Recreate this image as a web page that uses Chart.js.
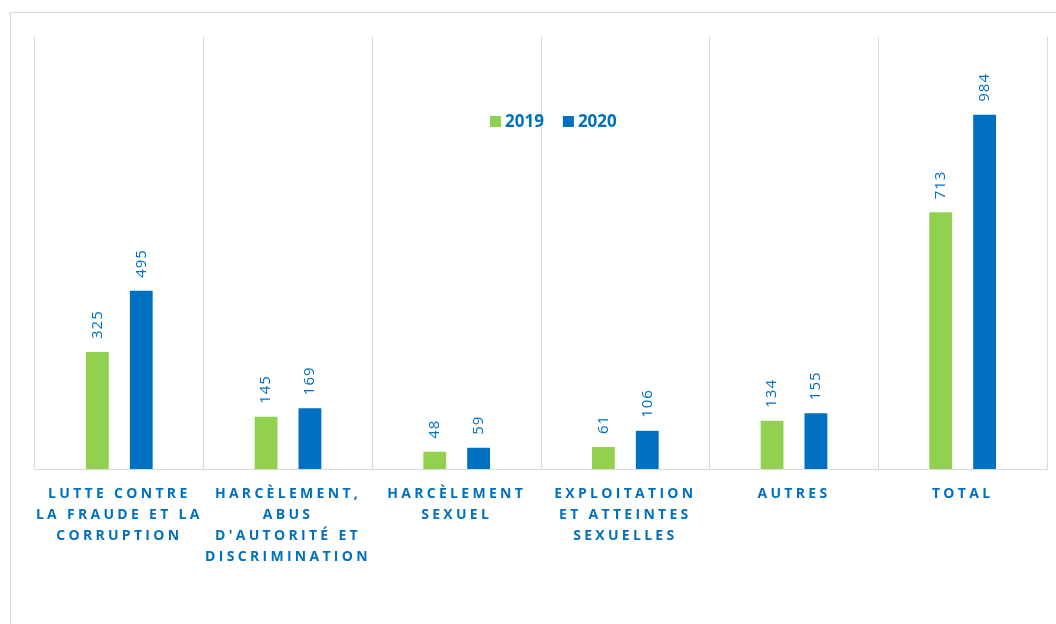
<!DOCTYPE html>
<html>
<head>
<meta charset="utf-8">
<script src="https://cdn.jsdelivr.net/npm/chart.js@4"></script>
<style>
  html, body { margin: 0; padding: 0; background: #fff; }
  #wrap { position: relative; width: 1056px; height: 624px; overflow: hidden; }
  #frame { position: absolute; left: 10px; top: 12px; width: 1100px; height: 700px; border: 1px solid #d9d9d9; }
  #chart { position: absolute; left: 0; top: 0; }
</style>
</head>
<body>
<div id="wrap">
  <div id="frame"></div>
  <canvas id="chart" width="1056" height="624"></canvas>
</div>
<script>
// 値は図から読み取ったもの
const CATEGORIES = [
  ['LUTTE CONTRE', 'LA FRAUDE ET LA', 'CORRUPTION'],
  ['HARCÈLEMENT,', 'ABUS', "D'AUTORITÉ ET", 'DISCRIMINATION'],
  ['HARCÈLEMENT', 'SEXUEL'],
  ['EXPLOITATION', 'ET ATTEINTES', 'SEXUELLES'],
  ['AUTRES'],
  ['TOTAL'],
];
const SERIES_LABELS = ['2019', '2020'];
const VALUES_2019 = [325, 145, 48, 61, 134, 713];
const VALUES_2020 = [495, 169, 59, 106, 155, 984];

const GREEN = '#92d050';
const BLUE = '#0070c0';
const GRID = '#d9d9d9';
const FONT = "'Open Sans', sans-serif";

// x 軸ラベルは字間を広げて描く。データセット描画前に戻す。
const spacingPlugin = {
  id: 'spacing',
  beforeDraw(chart) { chart.ctx.letterSpacing = '3.3px'; },
  beforeDatasetsDraw(chart) { chart.ctx.letterSpacing = '0px'; },
};

// 棒の上に縦書きの数値
const valueLabels = {
  id: 'valueLabels',
  afterDatasetsDraw(chart) {
    const ctx = chart.ctx;
    chart.data.datasets.forEach((ds, di) => {
      const meta = chart.getDatasetMeta(di);
      meta.data.forEach((bar, i) => {
        ctx.save();
        ctx.letterSpacing = '1px';
        ctx.translate(bar.x, bar.y - 13);
        ctx.rotate(-Math.PI / 2);
        ctx.font = `15px ${FONT}`;
        ctx.fillStyle = BLUE;
        ctx.textAlign = 'left';
        ctx.textBaseline = 'middle';
        ctx.fillText(String(ds.data[i]), 0, 0);
        ctx.restore();
      });
    });
  },
};

// 凡例はプロット内の上寄り中央
const insideLegend = {
  id: 'insideLegend',
  afterDatasetsDraw(chart) {
    const ctx = chart.ctx;
    const area = chart.chartArea;
    let x = area.left + 455;
    const y = 121;
    ctx.save();
    ctx.font = `bold 17px ${FONT}`;
    ctx.textBaseline = 'middle';
    ctx.textAlign = 'left';
    chart.data.datasets.forEach((ds) => {
      ctx.fillStyle = ds.backgroundColor;
      ctx.fillRect(x, y - 5, 11, 11);
      ctx.fillStyle = BLUE;
      ctx.fillText(ds.label, x + 15, y + 1);
      x += 15 + ctx.measureText(ds.label).width + 19;
    });
    ctx.restore();
  },
};

new Chart(document.getElementById('chart').getContext('2d'), {
  type: 'bar',
  data: {
    labels: CATEGORIES,
    datasets: [
      { label: SERIES_LABELS[0], data: VALUES_2019, backgroundColor: GREEN, categoryPercentage: 0.52, barPercentage: 0.52 },
      { label: SERIES_LABELS[1], data: VALUES_2020, backgroundColor: BLUE, categoryPercentage: 0.52, barPercentage: 0.52 },
    ],
  },
  options: {
    responsive: false,
    animation: false,
    layout: { padding: { left: 35, right: 9, top: 37, bottom: 0 } },
    plugins: { legend: { display: false }, tooltip: { enabled: false } },
    scales: {
      x: {
        grid: { color: GRID, lineWidth: 1, drawTicks: false, offset: true },
        border: { color: GRID, width: 1 },
        ticks: {
          color: BLUE,
          font: { family: FONT, size: 14, weight: 'bold', lineHeight: 1.5 },
          padding: 15,
          maxRotation: 0,
          autoSkip: false,
        },
        afterFit(scale) { scale.height = 155; },
      },
      y: {
        display: false,
        min: 0,
        max: 1200,
      },
    },
  },
  plugins: [spacingPlugin, valueLabels, insideLegend],
});
</script>
</body>
</html>
